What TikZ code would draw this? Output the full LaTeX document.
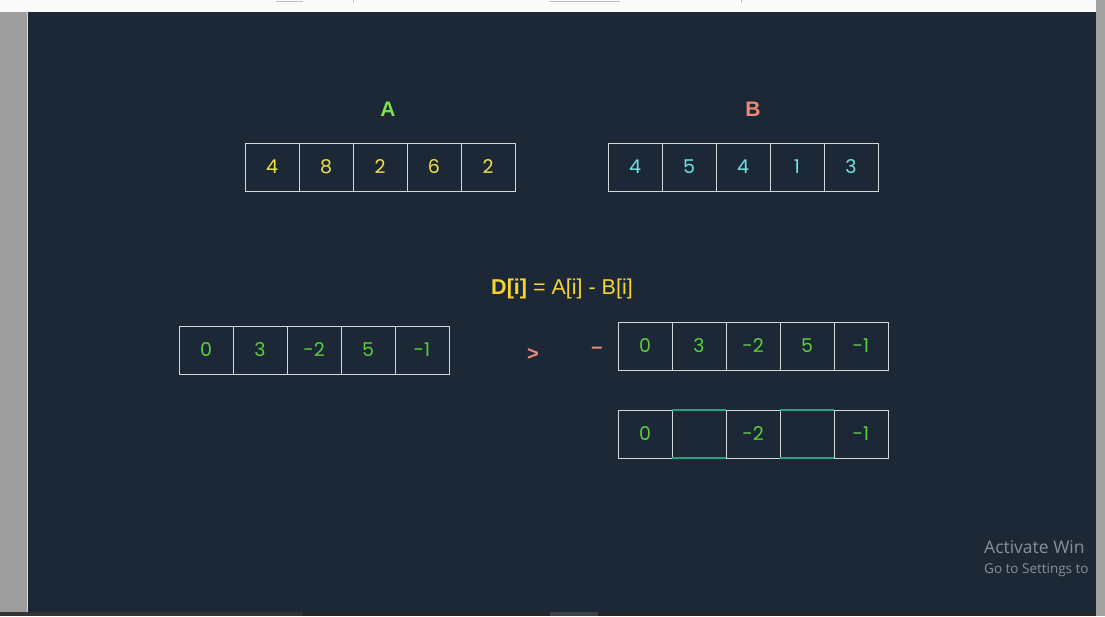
\documentclass[tikz,border=0pt]{standalone}
\usepackage{fontspec}
\setmainfont{Poppins}
\newfontfamily\headfont{Liberation Sans}
\newfontfamily\winfont{Open Sans}
\usetikzlibrary{positioning}

\definecolor{canvas}{HTML}{1C2836}
\definecolor{cellline}{HTML}{D4D6D8}
\definecolor{agreen}{HTML}{7EE04A}
\definecolor{bsalmon}{HTML}{F0887C}
\definecolor{ayellow}{HTML}{F2E04A}
\definecolor{bcyan}{HTML}{70E4E4}
\definecolor{dgreen}{HTML}{5CCC3C}
\definecolor{dyellow}{HTML}{F5D438}
\definecolor{gapline}{HTML}{18A882}
\definecolor{wintext}{HTML}{8A9098}

\tikzset{
    cell/.style={draw=cellline,line width=0.9pt,minimum width=54pt,minimum height=48pt,
                 inner sep=0pt,font=\fontsize{19}{19}\selectfont},
    head/.style={font=\headfont\bfseries\fontsize{21}{21}\selectfont},
    sign/.style={text=bsalmon,font=\headfont\bfseries\fontsize{20}{20}\selectfont},
    gap/.style={draw=gapline,line width=2pt},
}

\begin{document}
\begin{tikzpicture}[x=1pt,y=-1pt]
\useasboundingbox (0,0) rectangle (1105,616);
\clip (0,0) rectangle (1105,616);
% screen frame
\fill[white!98!black] (0,0) rectangle (1105,12);
\draw[black!25,line width=1pt] (276,1) -- (303,1) (549,1) -- (620,1);
\draw[black!25,line width=0.6pt] (353,0) -- (353,3) (741,0) -- (741,3);
\fill[black!38] (0,12) rectangle (27,612);
\fill[white!85!black] (27,12) rectangle (28,612);
\fill[canvas] (28,12) rectangle (1096,612);

% arrays A and B
\node[head,text=agreen] (la) at (388,109) {A};
\node[head,text=bsalmon] (lb) at (753,109) {B};
\foreach \v [count=\i] in {4,8,2,6,2}
    \node[cell,text=ayellow] (a\i) at (245+27+54*\i-54,167) {\v};
\foreach \v [count=\i] in {4,5,4,1,3}
    \node[cell,text=bcyan] (b\i) at (608+27+54*\i-54,167) {\v};

% difference formula
\node[font=\headfont\fontsize{21.5}{21.5}\selectfont,text=dyellow] (formula) at (562,289)
    {\textbf{D[i]} = A[i] - B[i]};

% difference array
\foreach \v [count=\i] in {0,3,-2,5,-1}
    \node[cell,text=dgreen] (d\i) at (179+27+54*\i-54,350) {\v};

\node[sign] (gt) at (533,354) {>};
\node[sign] (minus) at (597,350) {–};

% copy of D
\foreach \v [count=\i] in {0,3,-2,5,-1}
    \node[cell,text=dgreen] (e\i) at (618+27+54*\i-54,346) {\v};

% D with positive entries removed
\foreach \v [count=\i] in {0,{},-2,{},-1}
    \node[cell,text=dgreen] (f\i) at (618+27+54*\i-54,434) {\v};
\draw[gap] (f2.north west) -- (f2.north east);
\draw[gap] (f2.south west) -- (f2.south east);
\draw[gap] (f4.north west) -- (f4.north east);
\draw[gap] (f4.south west) -- (f4.south east);

% watermark
\node[anchor=west,text=wintext,font=\winfont\fontsize{17.5}{17.5}\selectfont,inner sep=0pt] (act) at (984,547) {Activate Win};
\node[anchor=west,text=wintext,font=\winfont\fontsize{13.5}{13.5}\selectfont,inner sep=0pt] (go) at (984,570) {Go to Settings to};

% right strip and task bar
\fill[black!37] (1096,0) rectangle (1105,616);
\fill[black!80] (0,612) rectangle (303,616);
\fill[black!97!cyan] (303,612) rectangle (550,616);
\fill[black!82!cyan] (550,612) rectangle (598,616);
\fill[black!97!cyan] (598,612) rectangle (1096,616);
\end{tikzpicture}
\end{document}
